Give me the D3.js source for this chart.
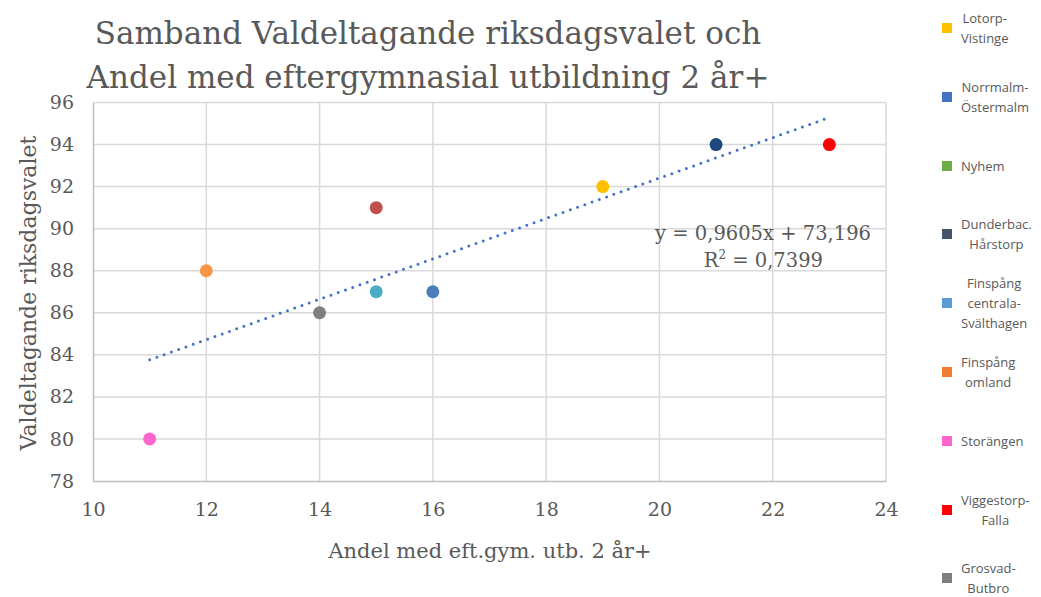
<!DOCTYPE html>
<html>
<head>
<meta charset="utf-8">
<script src="https://cdn.jsdelivr.net/npm/d3@7"></script>
<style>
  body { margin: 0; background: #fff; }
  text { fill: #595959; }
</style>
</head>
<body>
<svg id="chart" width="1041" height="597"></svg>
<script>
// områden, värden och färger
const names = ["Lotorp-\nVistinge", "Norrmalm-\nÖstermalm", "Nyhem", "Dunderbac.\nHårstorp",
  "Finspång\ncentrala-\nSvälthagen", "Finspång\nomland", "Storängen", "Viggestorp-\nFalla", "Grosvad-\nButbro"]
const xVals = [19, 16, 15, 21, 15, 12, 11, 23, 14]
const yVals = [92, 87, 91, 94, 87, 88, 80, 94, 86]
const pointColors = ["#FFC000", "#4A7EBB", "#C0504D", "#1F497D", "#4BACC6", "#F79646", "#FF66CC", "#FF0000", "#7F7F7F"]
const legendColors = ["#FFC000", "#4472C4", "#70AD47", "#44546A", "#5B9BD5", "#ED7D31", "#FF66CC", "#FF0000", "#7F7F7F"]
const xTicks = [10, 12, 14, 16, 18, 20, 22, 24]
const yTicks = [78, 80, 82, 84, 86, 88, 90, 92, 94, 96]

const svg = d3.select("#chart")
const serif = "'DejaVu Serif', serif"

let x = d3.scaleLinear().domain([10, 24]).range([93, 886])
let y = d3.scaleLinear().domain([78, 96]).range([481, 102.5])

// rutnät
svg.append("g").selectAll("line")
  .data(xTicks.slice(1))
  .enter().append("line")
  .attr("x1", d => x(d)).attr("x2", d => x(d))
  .attr("y1", y(96)).attr("y2", y(78))
  .style("stroke", "#d9d9d9").style("stroke-width", 1.5)
svg.append("g").selectAll("line")
  .data(yTicks.slice(1))
  .enter().append("line")
  .attr("x1", x(10)).attr("x2", x(24))
  .attr("y1", d => y(d)).attr("y2", d => y(d))
  .style("stroke", "#d9d9d9").style("stroke-width", 1.5)

// axlar
let xAxis = svg.append("g").attr("transform", "translate(0," + y(78) + ")")
  .call(d3.axisBottom(x).tickValues(xTicks).tickSize(0).tickPadding(22))
let yAxis = svg.append("g").attr("transform", "translate(" + x(10) + ",0)")
  .call(d3.axisLeft(y).tickValues(yTicks).tickSize(0).tickPadding(19))
;[xAxis, yAxis].forEach(a => {
  a.select(".domain").style("stroke", "#bfbfbf").style("stroke-width", 1.5)
  a.selectAll("text").style("font-family", serif).style("font-size", "19px").style("fill", "#595959")
})

// trendlinje (minsta kvadrat)
const mx = d3.mean(xVals), my = d3.mean(yVals)
let sxy = 0, sxx = 0, syy = 0
xVals.forEach((v, i) => { sxy += (v - mx) * (yVals[i] - my); sxx += (v - mx) ** 2; syy += (yVals[i] - my) ** 2 })
const k = sxy / sxx, m = my - k * mx
const r2 = (sxy * sxy) / (sxx * syy)
const x0 = d3.min(xVals), x1 = d3.max(xVals)
svg.append("line")
  .attr("x1", x(x0)).attr("y1", y(k * x0 + m))
  .attr("x2", x(x1)).attr("y2", y(k * x1 + m))
  .style("stroke", "#4472C4").style("stroke-width", 3)
  .style("stroke-linecap", "round").style("stroke-dasharray", "0 7.7")

// punkter
svg.append("g").selectAll("circle")
  .data(xVals)
  .enter().append("circle")
  .attr("cx", d => x(d))
  .attr("cy", (d, i) => y(yVals[i]))
  .attr("r", 6.5)
  .attr("fill", (d, i) => pointColors[i])

// ekvation
svg.append("text").attr("x", 871).attr("y", 240).attr("text-anchor", "end")
  .style("font-family", serif).style("font-size", "19.5px")
  .text("y = " + k.toFixed(4).replace(".", ",") + "x + " + m.toFixed(3).replace(".", ","))
let r2t = svg.append("text").attr("x", 823).attr("y", 267).attr("text-anchor", "end")
  .style("font-family", serif).style("font-size", "19.5px")
r2t.append("tspan").text("R")
r2t.append("tspan").attr("dy", -8).style("font-size", "12px").text("2")
r2t.append("tspan").attr("dy", 8).text(" = " + r2.toFixed(4).replace(".", ","))

// rubrik
const title = ["Samband Valdeltagande riksdagsvalet och", "Andel med eftergymnasial utbildning 2 år+"]
svg.append("g").selectAll("text")
  .data(title)
  .enter().append("text")
  .attr("x", 428).attr("y", (d, i) => 44 + i * 44)
  .attr("text-anchor", "middle")
  .style("font-family", serif).style("font-size", "31px")
  .text(d => d)

// axeltitlar
svg.append("text").attr("x", 490).attr("y", 558).attr("text-anchor", "middle")
  .style("font-family", serif).style("font-size", "21px")
  .text("Andel med eft.gym. utb. 2 år+")
svg.append("text").attr("transform", "translate(36,293) rotate(-90)").attr("text-anchor", "middle")
  .style("font-family", serif).style("font-size", "22px")
  .text("Valdeltagande riksdagsvalet")

// förklaring
const legendY = [28, 97, 166, 234, 303, 372, 441, 510, 578]
let legend = svg.append("g").selectAll("g")
  .data(names)
  .enter().append("g")
  .attr("transform", (d, i) => "translate(0," + legendY[i] + ")")
legend.append("rect")
  .attr("x", 942).attr("y", -5).attr("width", 10).attr("height", 10)
  .attr("fill", (d, i) => legendColors[i])
legend.each(function (d) {
  const lines = d.split("\n")
  const g = d3.select(this)
  const t = g.append("text")
    .style("font-family", "'Open Sans', sans-serif").style("font-size", "13px")
    .attr("text-anchor", "middle")
  lines.forEach((l, j) => {
    t.append("tspan").attr("x", 0).attr("y", (j - (lines.length - 1) / 2) * 20 + 5).text(l)
  })
  const w = t.node().getBBox().width
  t.selectAll("tspan").attr("x", 961 + w / 2)
})
</script>
</body>
</html>
